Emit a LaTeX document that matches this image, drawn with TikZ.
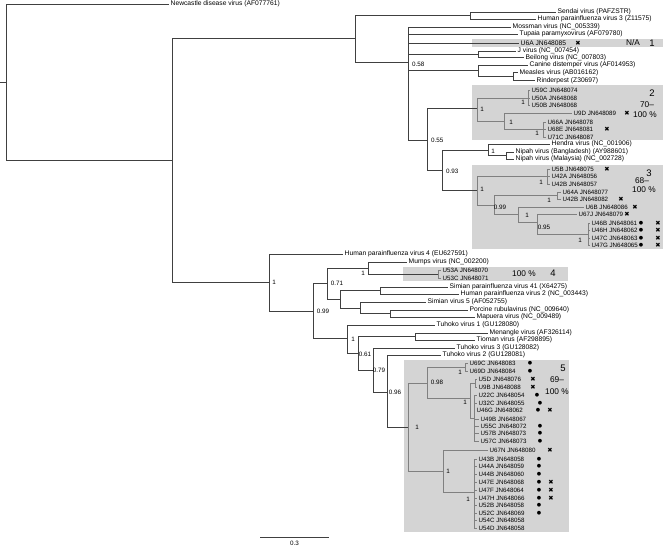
\documentclass[tikz,border=0pt]{standalone}
\usepackage{fontspec}
\setmainfont{Liberation Sans}
\newfontfamily\symfnt{DejaVu Sans}

\begin{document}
\begin{tikzpicture}[x=1pt,y=-1pt,
  br/.style={draw=black!75,line width=0.9pt},
  brg/.style={draw=black!50,line width=0.9pt},
  tip/.style={anchor=west,inner xsep=1.5pt,inner ysep=0pt,font=\fontsize{6.7}{7}\selectfont},
  utip/.style={tip,font=\fontsize{6.2}{7}\selectfont},
  supp/.style={inner sep=0pt,font=\fontsize{6.3}{7}\selectfont},
  clbox/.style={fill=black!17},
  cname/.style={inner sep=0pt,font=\fontsize{9.5}{10}\selectfont},
  cnote/.style={inner sep=0pt,font=\fontsize{8.3}{9}\selectfont},
  dotm/.style={inner sep=0pt,font=\symfnt\fontsize{5}{6}\selectfont},
  crossm/.style={inner sep=0pt,font=\symfnt\fontsize{6.3}{7}\selectfont}]
  \useasboundingbox (0,0) rectangle (669,547);

  \fill[clbox] (472,39) rectangle (663,47);
  \fill[clbox] (472,85) rectangle (663,140);
  \fill[clbox] (472,165) rectangle (663,249);
  \fill[clbox] (403,267) rectangle (568,281);
  \fill[clbox] (404,360) rectangle (569,532);

  \coordinate (stub) at (0,82);
  \coordinate (root) at (6,82);
  \coordinate (nA) at (172,160);
  \coordinate (nB) at (355,38);
  \coordinate (nSen) at (470,15.5);
  \coordinate (nC) at (408,62);
  \coordinate (nJ) at (478,54);
  \coordinate (nCDV) at (478,70);
  \coordinate (nMR) at (513,76.5);
  \coordinate (nD) at (427,140);
  \coordinate (n2) at (477,108);
  \coordinate (n50) at (528,98);
  \coordinate (n9) at (504,121);
  \coordinate (n66) at (543,129);
  \coordinate (nE) at (442,170);
  \coordinate (nHen) at (488,150);
  \coordinate (nNip) at (506,155.5);
  \coordinate (n3) at (477,190);
  \coordinate (n5B) at (547,176);
  \coordinate (n099) at (494,205);
  \coordinate (n64) at (557,195.5);
  \coordinate (nX) at (518,214);
  \coordinate (nY) at (537,222);
  \coordinate (n46) at (588,234);
  \coordinate (nK) at (269,282);
  \coordinate (nL) at (313,311);
  \coordinate (nM) at (327,283);
  \coordinate (nMu) at (368,268);
  \coordinate (n53) at (438,274);
  \coordinate (nS) at (340,299);
  \coordinate (nSP) at (380,290.5);
  \coordinate (nSV) at (360,308);
  \coordinate (nPR) at (390,313.5);
  \coordinate (nT) at (347,338);
  \coordinate (nU) at (358,353);
  \coordinate (nMT) at (415,336.5);
  \coordinate (nV) at (373,370);
  \coordinate (nW) at (387,392);
  \coordinate (n5) at (408,427);
  \coordinate (nP) at (427,383);
  \coordinate (n69) at (465,367);
  \coordinate (nQ) at (470,398);
  \coordinate (n5D) at (475,383);
  \coordinate (n22) at (474,418);
  \coordinate (nR) at (443,471);
  \coordinate (n43) at (474,492);

  \node[tip] (ndv) at (169,4) {Newcastle disease virus (AF077761)};
  \node[tip] (sendai) at (556,12) {Sendai virus (PAFZSTR)};
  \node[tip] (hpiv3) at (536,19) {Human parainfluenza virus 3 (Z11575)};
  \node[tip] (mossman) at (511,27) {Mossman virus (NC\_005339)};
  \node[tip] (tupaia) at (518,34) {Tupaia paramyxovirus (AF079780)};
  \node[tip] (u6a) at (519,43) {U6A JN648085};
  \node[tip] (jv) at (516,51) {J virus (NC\_007454)};
  \node[tip] (beilong) at (524,57.5) {Beilong virus (NC\_007803)};
  \node[tip] (cdv) at (528,65) {Canine distemper virus (AF014953)};
  \node[tip] (measles) at (518,72.5) {Measles virus (AB016162)};
  \node[tip] (rinder) at (535,80.5) {Rinderpest (Z30697)};
  \node[utip] (u59c) at (530,90) {U59C JN648074};
  \node[utip] (u50a) at (530,98) {U50A JN648068};
  \node[utip] (u50b) at (530,105) {U50B JN648068};
  \node[utip] (u9d) at (572,113) {U9D JN648089};
  \node[utip] (u66a) at (546,122) {U66A JN648078};
  \node[utip] (u68e) at (546,129) {U68E JN648081};
  \node[utip] (u71c) at (546,137) {U71C JN648087};
  \node[tip] (hendra) at (550,144) {Hendra virus (NC\_001906)};
  \node[tip] (nipb) at (514,152) {Nipah virus (Bangladesh) (AY988601)};
  \node[tip] (nipm) at (514,159) {Nipah virus (Malaysia) (NC\_002728)};
  \node[utip] (u5b) at (550,169) {U5B JN648075};
  \node[utip] (u42a) at (550,176) {U42A JN648056};
  \node[utip] (u42b) at (550,184) {U42B JN648057};
  \node[utip] (u64a) at (561,192) {U64A JN648077};
  \node[utip] (u42bb) at (561,199) {U42B JN648082};
  \node[utip] (u6b) at (584,207) {U6B JN648086};
  \node[utip] (u67j) at (577,214) {U67J JN648079};
  \node[utip] (u46b) at (590,223) {U46B JN648061};
  \node[utip] (u46h) at (590,230) {U46H JN648062};
  \node[utip] (u47c) at (590,238) {U47C JN648063};
  \node[utip] (u47g) at (590,245) {U47G JN648065};
  \node[tip] (hpiv4) at (343,254) {Human parainfluenza virus 4 (EU627591)};
  \node[tip] (mumps) at (407,262) {Mumps virus (NC\_002200)};
  \node[utip] (u53a) at (441,270) {U53A JN648070};
  \node[utip] (u53c) at (441,278) {U53C JN648071};
  \node[tip] (spiv41) at (448,287) {Simian parainfluenza virus 41 (X64275)};
  \node[tip] (hpiv2) at (459,294) {Human parainfluenza virus 2 (NC\_003443)};
  \node[tip] (sv5) at (426,302) {Simian virus 5 (AF052755)};
  \node[tip] (porcine) at (468,310) {Porcine rubulavirus (NC\_009640)};
  \node[tip] (mapuera) at (475,317) {Mapuera virus (NC\_009489)};
  \node[tip] (tuh1) at (435,325) {Tuhoko virus 1 (GU128080)};
  \node[tip] (menangle) at (488,333) {Menangle virus (AF326114)};
  \node[tip] (tioman) at (475,340) {Tioman virus (AF298895)};
  \node[tip] (tuh3) at (455,348) {Tuhoko virus 3 (GU128082)};
  \node[tip] (tuh2) at (441,355) {Tuhoko virus 2 (GU128081)};
  \node[utip] (u69c) at (468,363) {U69C JN648083};
  \node[utip] (u69d) at (468,371) {U69D JN648084};
  \node[utip] (u5d) at (477,379) {U5D JN648076};
  \node[utip] (u9b) at (477,387) {U9B JN648088};
  \node[utip] (u22c) at (477,395) {U22C JN648054};
  \node[utip] (u32c) at (477,403) {U32C JN648055};
  \node[utip] (u46g) at (475,410) {U46G JN648062};
  \node[utip] (u49b) at (479,419) {U49B JN648067};
  \node[utip] (u55c) at (479,426) {U55C JN648072};
  \node[utip] (u57b) at (479,433) {U57B JN648073};
  \node[utip] (u57c) at (479,441) {U57C JN648073};
  \node[utip] (u67n) at (488,450) {U67N JN648080};
  \node[utip] (u43b) at (477,459) {U43B JN648058};
  \node[utip] (u44a) at (477,466) {U44A JN648059};
  \node[utip] (u44b) at (477,474) {U44B JN648060};
  \node[utip] (u47e) at (477,482) {U47E JN648068};
  \node[utip] (u47f) at (477,490) {U47F JN648064};
  \node[utip] (u47h) at (477,498) {U47H JN648066};
  \node[utip] (u52b) at (477,505) {U52B JN648058};
  \node[utip] (u52c) at (477,513) {U52C JN648069};
  \node[utip] (u54c) at (477,520) {U54C JN648058};
  \node[utip] (u54d) at (477,528) {U54D JN648058};

  \draw[br] (stub) -- (root);
  \foreach \p/\c in {root/ndv,root/nA,nA/nB,nA/nK,nB/nSen,nB/nC,nSen/sendai,nSen/hpiv3,
      nC/mossman,nC/tupaia,nC/u6a,nC/nJ,nC/nCDV,nC/nD,nJ/jv,nJ/beilong,nCDV/cdv,nCDV/nMR,
      nMR/measles,nMR/rinder,nD/n2,nD/nE,nE/nHen,nE/n3,nHen/hendra,nHen/nNip,nNip/nipb,
      nNip/nipm,nK/hpiv4,nK/nL,nL/nM,nL/nT,nM/nMu,nM/nS,nMu/mumps,nMu/n53,nS/nSP,nS/nSV,
      nSP/spiv41,nSP/hpiv2,nSV/sv5,nSV/nPR,nPR/porcine,nPR/mapuera,nT/tuh1,nT/nU,nU/nMT,
      nU/nV,nMT/menangle,nMT/tioman,nV/tuh3,nV/nW,nW/tuh2,nW/n5}
    \draw[br] (\p) |- (\c);
  \foreach \p/\c in {n2/n50,n2/n9,n50/u59c,n50/u50a,n50/u50b,n9/u9d,n9/n66,n66/u66a,
      n66/u68e,n66/u71c,n3/n5B,n3/n099,n5B/u5b,n5B/u42a,n5B/u42b,n099/n64,n099/nX,
      n64/u64a,n64/u42bb,nX/u6b,nX/nY,nY/u67j,nY/n46,n46/u46b,n46/u46h,n46/u47c,n46/u47g,
      n53/u53a,n53/u53c,n5/nP,n5/nR,nP/n69,nP/nQ,n69/u69c,n69/u69d,nQ/n5D,nQ/n22,
      n5D/u5d,n5D/u9b,n22/u22c,n22/u32c,n22/u46g,n22/u49b,n22/u55c,n22/u57b,n22/u57c,
      nR/u67n,nR/n43,n43/u43b,n43/u44a,n43/u44b,n43/u47e,n43/u47f,n43/u47h,n43/u52b,
      n43/u52c,n43/u54c,n43/u54d}
    \draw[brg] (\p) |- (\c);

  \node[supp,anchor=west] (s058) at (412,64) {0.58};
  \node[supp,anchor=west] (s055) at (431,140) {0.55};
  \node[supp,anchor=west] (s093) at (446,171) {0.93};
  \node[supp] (sHen) at (493,151) {1};
  \node[supp] (s2) at (482,109) {1};
  \node[supp] (s50) at (523,102) {1};
  \node[supp] (s9) at (511,122) {1};
  \node[supp] (s66) at (537,133) {1};
  \node[supp] (s3) at (482,189) {1};
  \node[supp] (s5B) at (541,182) {1};
  \node[supp] (s099a) at (500,207) {0.99};
  \node[supp] (s64) at (549,200) {1};
  \node[supp] (sX) at (527,215) {1};
  \node[supp] (s095) at (544,227) {0.95};
  \node[supp] (s46) at (580,240) {1};
  \node[supp] (sK) at (274,282) {1};
  \node[supp] (s099b) at (323,311) {0.99};
  \node[supp] (s071) at (337,283) {0.71};
  \node[supp] (sMu) at (363,273) {1};
  \node[supp] (sT) at (353,339) {1};
  \node[supp] (s061) at (365,354) {0.61};
  \node[supp] (s079) at (379,370) {0.79};
  \node[supp] (s096) at (395,392) {0.96};
  \node[supp] (s5) at (417,427) {1};
  \node[supp] (s098) at (437,382) {0.98};
  \node[supp] (s69) at (460,372) {1};
  \node[supp] (s22) at (465,402) {1};
  \node[supp] (sR) at (448,471) {1};
  \node[supp] (s43) at (468,499) {1};

  \foreach \x/\y [count=\i] in {641/223,641/230,641/238,641/245,530/363,530/371,537/395,
      540/403,538/410,540/426,540/433,540/441,539/459,539/466,539/474,539/482,539/490,
      539/498,539/505,539/513}
    \node[dotm] (dot\i) at (\x,\y) {●};
  \foreach \x/\y [count=\i] in {578/43,627/113,607/129,607/169,621/199,635/207,627/214,
      658/223,658/230,658/238,658/245,533/379,533/387,550/410,550/450,551/482,551/490,
      551/498}
    \node[crossm] (cross\i) at (\x,\y) {✖};

  \node[cnote] (na1) at (633,43) {N/A};
  \node[cname] (c1) at (652,43) {1};
  \node[cname] (c2) at (652,93) {2};
  \node[cnote] (p2a) at (647,105) {70--};
  \node[cnote] (p2b) at (645,115) {100 \%};
  \node[cname] (c3) at (649,173) {3};
  \node[cnote] (p3a) at (642,181) {68--};
  \node[cnote] (p3b) at (644,190) {100 \%};
  \node[cnote] (p4) at (524,274) {100 \%};
  \node[cname] (c4) at (553,273) {4};
  \node[cname] (c5) at (563,368) {5};
  \node[cnote] (p5a) at (557,380) {69--};
  \node[cnote] (p5b) at (557,392) {100 \%};

  \coordinate (bar0) at (260,537);
  \coordinate (bar1) at (329,537);
  \draw[br,line width=0.7pt] (bar0) -- (bar1);
  \node[supp] (barlab) at (294.5,543) {0.3};
\end{tikzpicture}
\end{document}
